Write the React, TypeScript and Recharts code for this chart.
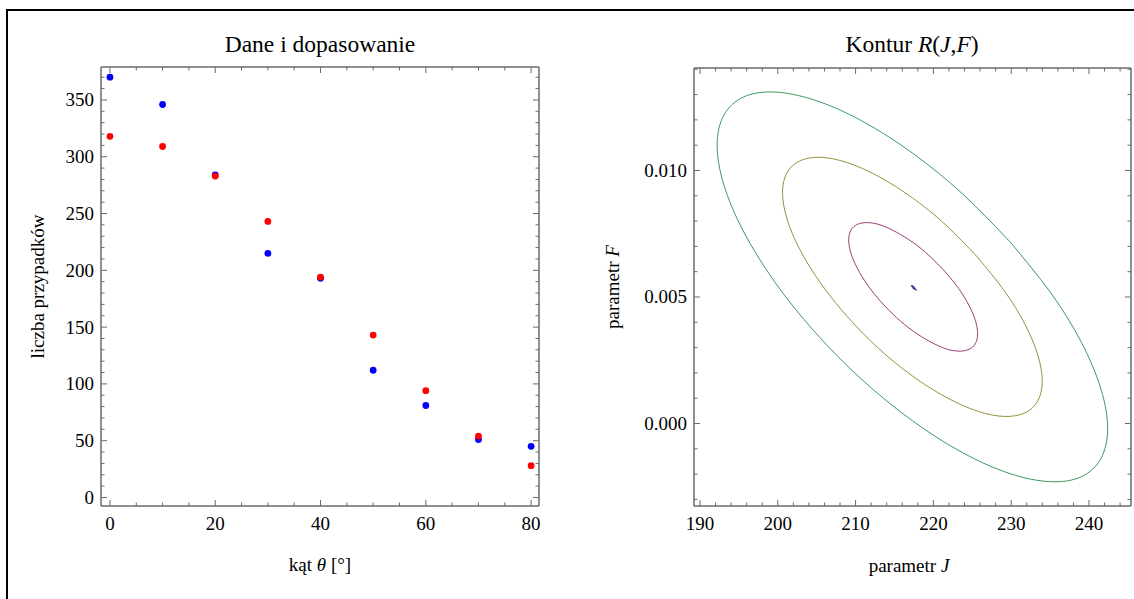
import React from 'react'
import { ScatterChart, Scatter, LineChart, Line, XAxis, YAxis } from 'recharts'

// left panel: measured counts vs fitted counts
const angles = [0, 10, 20, 30, 40, 50, 60, 70, 80]
const measured = [370, 346, 284, 215, 193, 112, 81, 51, 45]
const fitted = [318, 309, 283, 243, 194, 143, 94, 54, 28]

const angleTicks = [0, 5, 10, 15, 20, 25, 30, 35, 40, 45, 50, 55, 60, 65, 70, 75, 80]
const angleLabels = [0, 20, 40, 60, 80]
const countTicks = [
  0, 10, 20, 30, 40, 50, 60, 70, 80, 90, 100, 110, 120, 130, 140, 150, 160, 170, 180, 190,
  200, 210, 220, 230, 240, 250, 260, 270, 280, 290, 300, 310, 320, 330, 340, 350, 360, 370,
]
const countLabels = [0, 50, 100, 150, 200, 250, 300, 350]

// right panel: contour lines of R(J,F), points as [J, F]
const contourGreen = [
  [229.85, 0.00718], [223.8, 0.00906], [217.3, 0.01069], [210.8, 0.01196], [204.75, 0.01278],
  [199.55, 0.0131], [195.56, 0.0129], [193.06, 0.01218], [192.2, 0.011], [193.06, 0.00944],
  [195.56, 0.00761], [199.55, 0.00562], [204.75, 0.00362], [210.8, 0.00174], [217.3, 0.00011],
  [223.8, -0.00116], [229.85, -0.00198], [235.05, -0.0023], [239.04, -0.0021], [241.54, -0.00138],
  [242.4, -0.0002], [241.54, 0.00136], [239.04, 0.0032], [235.05, 0.00518],
]
const contourOlive = [
  [225.65, 0.00658], [221.62, 0.00784], [217.3, 0.00892], [212.98, 0.00976], [208.95, 0.01031],
  [205.5, 0.01052], [202.84, 0.01038], [201.18, 0.00991], [200.61, 0.00913], [201.18, 0.00809],
  [202.84, 0.00687], [205.5, 0.00555], [208.95, 0.00422], [212.98, 0.00296], [217.3, 0.00188],
  [221.62, 0.00104], [225.65, 0.00049], [229.1, 0.00028], [231.76, 0.00042], [233.42, 0.00089],
  [233.99, 0.00168], [233.42, 0.00271], [231.76, 0.00393], [229.1, 0.00525],
]
const contourPurple = [
  [221.54, 0.00599], [219.55, 0.00661], [217.4, 0.00715], [215.25, 0.00756], [213.26, 0.00784],
  [211.54, 0.00794], [210.23, 0.00787], [209.4, 0.00764], [209.12, 0.00725], [209.4, 0.00673],
  [210.23, 0.00613], [211.54, 0.00547], [213.26, 0.00481], [215.25, 0.00419], [217.4, 0.00365],
  [219.55, 0.00324], [221.54, 0.00296], [223.26, 0.00286], [224.57, 0.00293], [225.4, 0.00316],
  [225.68, 0.00355], [225.4, 0.00407], [224.57, 0.00467], [223.26, 0.00533],
]
const contourBlue = [
  [217.15, 0.00546], [217.45, 0.00542], [217.75, 0.00529], [217.45, 0.00533],
]

const jTicks = [
  190, 192, 194, 196, 198, 200, 202, 204, 206, 208, 210, 212, 214, 216, 218, 220, 222, 224,
  226, 228, 230, 232, 234, 236, 238, 240, 242, 244,
]
const jLabels = [190, 200, 210, 220, 230, 240]
const fTicks = [
  -0.003, -0.002, -0.001, 0, 0.001, 0.002, 0.003, 0.004, 0.005, 0.006, 0.007, 0.008, 0.009,
  0.01, 0.011, 0.012, 0.013, 0.014,
]
const fLabels = [0, 0.005, 0.01]

const FONT = '"Liberation Serif", "Times New Roman", serif'
const FRAME = '#6a6a6a'
const MAJOR = 6
const MINOR = 3.5

const toPoints = (xs: number[], ys: number[]) => xs.map((x, i) => ({ x, y: ys[i] }))
const closed = (pts: number[][]) => [...pts, pts[0]].map(([J, F]) => ({ J, F }))

// frame tick: drawn inward from the axis line, label only on majors
function frameTick(side: 'bottom' | 'left' | 'top' | 'right', labels: number[], fmt?: (v: number) => string) {
  return (props: any) => {
    const { x, y, payload } = props
    const v = payload.value
    const major = labels.includes(v)
    const len = major ? MAJOR : MINOR
    let line
    if (side === 'bottom') line = <line x1={x} y1={y} x2={x} y2={y - len} stroke={FRAME} />
    else if (side === 'top') line = <line x1={x} y1={y} x2={x} y2={y + len} stroke={FRAME} />
    else if (side === 'left') line = <line x1={x} y1={y} x2={x + len} y2={y} stroke={FRAME} />
    else line = <line x1={x} y1={y} x2={x - len} y2={y} stroke={FRAME} />
    const text = fmt ? fmt(v) : String(v)
    return (
      <g>
        {line}
        {major && side === 'bottom' && (
          <text x={x} y={y + 24} textAnchor="middle" fontFamily={FONT} fontSize={19} fill="#000">
            {text}
          </text>
        )}
        {major && side === 'left' && (
          <text x={x - 7} y={y + 6.5} textAnchor="end" fontFamily={FONT} fontSize={19} fill="#000">
            {text}
          </text>
        )}
      </g>
    )
  }
}

const axisCommon = {
  type: 'number' as const,
  allowDataOverflow: true,
  tickSize: 0,
  tickMargin: 0,
  tickLine: false,
  interval: 0 as const,
  axisLine: { stroke: FRAME, strokeWidth: 1.5 },
}

const dot = (color: string) => (props: any) => <circle cx={props.cx} cy={props.cy} r={3.4} fill={color} />

export default function App() {
  const measuredPts = toPoints(angles, measured)
  const fittedPts = toPoints(angles, fitted)
  const xDom: [number, number] = [-1.7, 81.5]
  const yDom: [number, number] = [-7.5, 379]
  const jDom: [number, number] = [189.23, 245.4]
  const fDom: [number, number] = [-0.00326, 0.01405]

  return (
    <div
      style={{
        position: 'absolute',
        left: 0,
        top: 0,
        width: 1134,
        height: 599,
        overflow: 'hidden',
        background: '#fff',
        fontFamily: FONT,
      }}
    >
      <div
        style={{
          position: 'absolute',
          left: 6,
          top: 9,
          width: 1200,
          height: 700,
          borderTop: '2px solid #000',
          borderLeft: '2px solid #000',
        }}
      />

      <div style={{ position: 'absolute', left: 0, top: 0 }}>
        <ScatterChart width={560} height={599} margin={{ top: 57, right: 11, bottom: 63, left: 41 }}>
          <XAxis {...axisCommon} dataKey="x" xAxisId="b" orientation="bottom" height={30}
            domain={xDom} ticks={angleTicks} tick={frameTick('bottom', angleLabels)} />
          <XAxis {...axisCommon} dataKey="x" xAxisId="t" orientation="top" height={10}
            domain={xDom} ticks={angleTicks} tick={frameTick('top', angleLabels)} />
          <YAxis {...axisCommon} dataKey="y" yAxisId="l" orientation="left" width={60}
            domain={yDom} ticks={countTicks} tick={frameTick('left', countLabels)} />
          <YAxis {...axisCommon} dataKey="y" yAxisId="r" orientation="right" width={10}
            domain={yDom} ticks={countTicks} tick={frameTick('right', countLabels)} />
          <Scatter data={measuredPts} xAxisId="b" yAxisId="l" shape={dot('#0000ff')} isAnimationActive={false} />
          <Scatter data={fittedPts} xAxisId="b" yAxisId="l" shape={dot('#ff0000')} isAnimationActive={false} />
        </ScatterChart>
      </div>

      <div style={{ position: 'absolute', left: 574, top: 0 }}>
        <LineChart width={600} height={599} margin={{ top: 58, right: 33, bottom: 63, left: 60 }}>
          <XAxis {...axisCommon} dataKey="J" xAxisId="b" orientation="bottom" height={30}
            domain={jDom} ticks={jTicks} tick={frameTick('bottom', jLabels)} />
          <XAxis {...axisCommon} dataKey="J" xAxisId="t" orientation="top" height={10}
            domain={jDom} ticks={jTicks} tick={frameTick('top', jLabels)} />
          <YAxis {...axisCommon} dataKey="F" yAxisId="l" orientation="left" width={60}
            domain={fDom} ticks={fTicks} tick={frameTick('left', fLabels, (v) => v.toFixed(3))} />
          <YAxis {...axisCommon} dataKey="F" yAxisId="r" orientation="right" width={10}
            domain={fDom} ticks={fTicks} tick={frameTick('right', fLabels)} />
          <Line data={closed(contourGreen)} dataKey="F" xAxisId="b" yAxisId="l" type="natural"
            stroke="#3d9962" strokeWidth={1} dot={false} activeDot={false} isAnimationActive={false} />
          <Line data={closed(contourOlive)} dataKey="F" xAxisId="b" yAxisId="l" type="natural"
            stroke="#99903d" strokeWidth={1} dot={false} activeDot={false} isAnimationActive={false} />
          <Line data={closed(contourPurple)} dataKey="F" xAxisId="b" yAxisId="l" type="natural"
            stroke="#993d74" strokeWidth={1} dot={false} activeDot={false} isAnimationActive={false} />
          <Line data={closed(contourBlue)} dataKey="F" xAxisId="b" yAxisId="l" type="linear"
            stroke="#3f3d99" strokeWidth={1.2} dot={false} activeDot={false} isAnimationActive={false} />
        </LineChart>
      </div>

      <svg width={1134} height={599} style={{ position: 'absolute', left: 0, top: 0, pointerEvents: 'none' }}>
        <g fontFamily={FONT} fill="#000">
          <text x={320} y={52} fontSize={23.5} textAnchor="middle">Dane i dopasowanie</text>
          <text x={912} y={52} fontSize={23.5} textAnchor="middle">
            Kontur <tspan fontStyle="italic">R</tspan>(<tspan fontStyle="italic">J</tspan>,
            <tspan fontStyle="italic">F</tspan>)
          </text>
          <text x={320} y={571} fontSize={19} textAnchor="middle">
            kąt <tspan fontStyle="italic">θ</tspan> [°]
          </text>
          <text x={909} y={572} fontSize={19} textAnchor="middle">
            parametr <tspan fontStyle="italic">J</tspan>
          </text>
          <text x={44} y={286.5} fontSize={19} textAnchor="middle" transform="rotate(-90 44 286.5)">
            liczba przypadków
          </text>
          <text x={619} y={287} fontSize={19} textAnchor="middle" transform="rotate(-90 619 287)">
            parametr <tspan fontStyle="italic">F</tspan>
          </text>
        </g>
      </svg>
    </div>
  )
}
